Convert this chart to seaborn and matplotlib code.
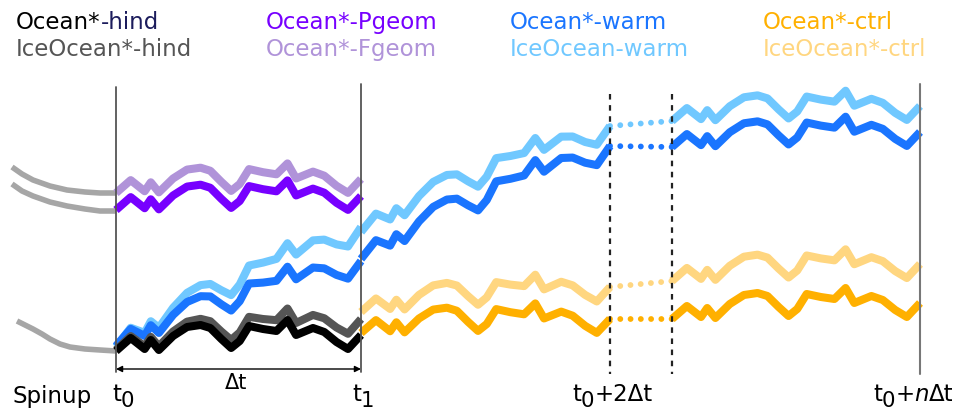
import numpy as np
import pandas as pd
import matplotlib
matplotlib.use("Agg")
import matplotlib.pyplot as plt
import seaborn as sns

sns.set_theme(style="white")
plt.rcParams["font.family"] = ["DejaVu Sans"]
plt.rcParams["mathtext.fontset"] = "dejavusans"

# ---- data (schematic units; y grows downwards) ----
# shared wiggle of every simulated period: fraction of period, offset
wiggle_s = [0, 0.06, 0.117, 0.142, 0.175, 0.233, 0.29, 0.345, 0.385, 0.43, 0.47,
            0.505, 0.543, 0.60, 0.655, 0.70, 0.735, 0.804, 0.85, 0.90, 0.947, 1.0]
wiggle_dy = [0, -13, -2, -11, -1, -15, -24, -26, -23, -12, -3,
             -10, -25, -22, -20, -31, -16, -23, -19, -9, -2, -16]

# time axis of the periods
period1 = (116, 361)
period2 = (361, 610)
period3 = (672, 920)
gap = (610, 672)

# start level, end trend level of each run in each period
hind_ocean_p1 = (352, 352)
hind_ice_p1 = (351, 336)
pgeom_p1 = (211, 213)
fgeom_p1 = (194, 196)
warm_ocean_p1 = (347, 278)
warm_ice_p1 = (348, 244)
warm_ocean_p2 = (260, 163)
warm_ice_p2 = (233, 143)
ctrl_ocean_p2 = (334, 336)
ctrl_ice_p2 = (313, 304)
warm_ocean_p3 = (148, 149)
warm_ice_p3 = (122, 123)
ctrl_ocean_p3 = (320, 320)
ctrl_ice_p3 = (282, 281)
# skipped years (dotted)
warm_ocean_gap = (147, 148)
warm_ice_gap = (127, 122)
ctrl_ocean_gap = (320, 320)
ctrl_ice_gap = (288, 282)

# spinup curves
spin_x_top = [12, 22, 33, 50, 67, 85, 100, 116]
spin_y_top = [168, 175, 181, 187, 191, 193, 194, 194]
spin_x_mid = [12, 22, 33, 50, 67, 85, 100, 116]
spin_y_mid = [185, 192, 197, 203, 207, 210, 212, 212]
spin_x_low = [17, 25, 33, 42, 50, 60, 70, 85, 100, 116]
spin_y_low = [322, 326, 330, 335, 340, 345, 348, 350, 351, 352]

C_HIND, C_HIND_I = "#000000", "#555555"
C_PG, C_FG = "#7700ff", "#b093d9"
C_WARM, C_WARM_I = "#1a75ff", "#70c8ff"
C_CTRL, C_CTRL_I = "#ffb000", "#ffd680"
C_SPIN = "#a6a6a6"
C_NAVY = "#1c1c5c"

legend_rows = [
    [[("Ocean*", C_HIND), ("-hind", C_NAVY)], [("IceOcean*-hind", C_HIND_I)]],
    [[("Ocean*-Pgeom", C_PG)], [("Ocean*-Fgeom", C_FG)]],
    [[("Ocean*-warm", C_WARM)], [("IceOcean-warm", C_WARM_I)]],
    [[("Ocean*-ctrl", C_CTRL)], [("IceOcean*-ctrl", C_CTRL_I)]],
]


def period_frame(levels, period):
    s = np.asarray(wiggle_s)
    x = period[0] + s * (period[1] - period[0])
    y = levels[0] + (levels[1] - levels[0]) * s + np.asarray(wiggle_dy)
    return pd.DataFrame({"x": x, "y": y})


fig = plt.figure(figsize=(9.59, 4.14), dpi=100)
ax = fig.add_axes([0, 0, 1, 1])
ax.set_xlim(0, 959)
ax.set_ylim(414, 0)
ax.axis("off")
renderer = fig.canvas.get_renderer()


def pieces(x, y, parts, fs, va="baseline"):
    """draw consecutive text parts: (text, dy, color, style, size factor)"""
    for txt, dy, col, style, f in parts:
        t = ax.text(x, y + dy, txt, ha="left", va=va, fontsize=fs * f,
                    color=col, style=style)
        w = t.get_window_extent(renderer).width
        x += w


LW = 5.8
kw = dict(estimator=None, sort=False, ax=ax, legend=False, solid_capstyle="butt")

# spinup
for xs, ys in [(spin_x_top, spin_y_top), (spin_x_mid, spin_y_mid), (spin_x_low, spin_y_low)]:
    sns.lineplot(x=xs, y=ys, color=C_SPIN, lw=4, **kw)

# period 1
for lev, col in [(fgeom_p1, C_FG), (pgeom_p1, C_PG), (warm_ice_p1, C_WARM_I),
                 (warm_ocean_p1, C_WARM), (hind_ice_p1, C_HIND_I), (hind_ocean_p1, C_HIND)]:
    d = period_frame(lev, period1)
    sns.lineplot(data=d, x="x", y="y", color=col, lw=LW, **kw)

# period 2
for lev, col in [(warm_ice_p2, C_WARM_I), (warm_ocean_p2, C_WARM),
                 (ctrl_ice_p2, C_CTRL_I), (ctrl_ocean_p2, C_CTRL)]:
    d = period_frame(lev, period2)
    sns.lineplot(data=d, x="x", y="y", color=col, lw=LW, **kw)

# period 3
for lev, col in [(warm_ice_p3, C_WARM_I), (warm_ocean_p3, C_WARM),
                 (ctrl_ice_p3, C_CTRL_I), (ctrl_ocean_p3, C_CTRL)]:
    d = period_frame(lev, period3)
    sns.lineplot(data=d, x="x", y="y", color=col, lw=LW, **kw)

# dotted gaps
for lev, col in [(warm_ice_gap, C_WARM_I), (warm_ocean_gap, C_WARM),
                 (ctrl_ice_gap, C_CTRL_I), (ctrl_ocean_gap, C_CTRL)]:
    sns.lineplot(x=list(gap), y=list(lev), color=col, lw=4.2,
                 linestyle=(0, (0.01, 1.75)), dash_capstyle="round",
                 estimator=None, sort=False, ax=ax, legend=False)

# period boundaries
ax.plot([116, 116], [88, 373], color="#555555", lw=1.3, zorder=6)
ax.plot([361, 361], [85, 373], color="#555555", lw=1.3, zorder=6)
ax.plot([920, 920], [85, 375], color="#777777", lw=1.5, zorder=6)
ax.plot([610, 610], [95, 375], color="#222222", lw=1.6, ls=(0, (2.5, 2.5)), zorder=6)
ax.plot([672, 672], [95, 375], color="#222222", lw=1.6, ls=(0, (2.5, 2.5)), zorder=6)

ax.annotate("", xy=(116, 370), xytext=(361, 370),
            arrowprops=dict(arrowstyle="<|-|>", color="black", lw=1,
                            mutation_scale=9, shrinkA=0, shrinkB=0))
ax.text(236, 383, "Δt", ha="center", va="center", fontsize=15, color="black")

FS = 16.5
K = "black"
ax.text(12, 403, "Spinup", ha="left", va="baseline", fontsize=FS, color=K)
SUB = 6
SF = 0.93
N = "normal"
pieces(112, 401, [("t", 0, K, N, 1), ("0", SUB, K, N, SF)], FS)
pieces(352, 401, [("t", 0, K, N, 1), ("1", SUB, K, N, SF)], FS)
pieces(572, 401, [("t", 0, K, N, 1), ("0", SUB, K, N, SF),
                  ("+2Δt", 0, K, N, 1)], FS)
pieces(873, 401, [("t", 0, K, N, 1), ("0", SUB, K, N, SF),
                  ("+", 0, K, N, 1), ("n", 0, K, "italic", 1),
                  ("Δt", 0, K, N, 1)], FS)

for xl, rows in zip([16, 266, 510, 763], legend_rows):
    for yl, row in zip([29, 56], rows):
        pieces(xl, yl, [(txt, 0, col, N, 1) for txt, col in row], FS)

fig.savefig("out.png", dpi=100)
